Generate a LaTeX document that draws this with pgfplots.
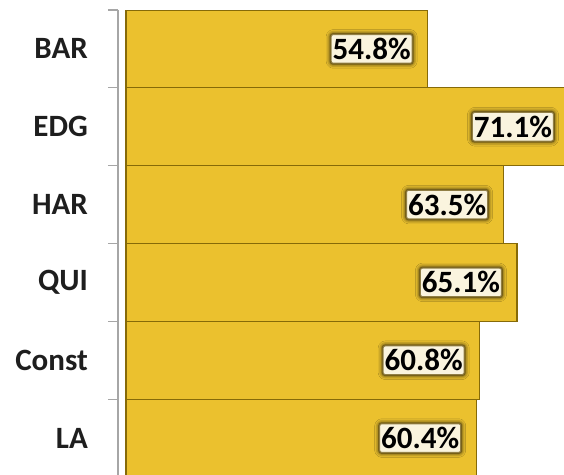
\documentclass[border=0pt]{standalone}
\usepackage{pgfplots}
\pgfplotsset{compat=1.18}
\usepackage{pgfplotstable}
\usepackage{fontspec}
\setmainfont{Carlito}
\usetikzlibrary{shadows.blur}
\definecolor{barfill}{RGB}{235,193,46}
\definecolor{baredge}{RGB}{134,106,8}
\definecolor{labfill}{RGB}{250,244,222}
\definecolor{axgray}{RGB}{166,166,166}
\definecolor{cattext}{RGB}{30,30,30}
\definecolor{glow}{RGB}{110,88,20}

\pgfplotstableread{
idx v
0 54.8
1 71.1
2 63.5
3 65.1
4 60.8
5 60.4
}\data

\begin{document}
\begin{tikzpicture}
\begin{axis}[
  scale only axis,
  width=458.8pt, height=467pt,
  xbar, bar width=1,
  x coord trafo/.code={\pgfmathparse{#1-20}},
  xmin=19.077, xmax=72,
  ymin=-0.5, ymax=5.5, y dir=reverse,
  hide x axis,
  axis y line*=left,
  y axis line style={draw=axgray, line width=1.2pt},
  ytick={0,...,5},
  yticklabels={BAR,EDG,HAR,QUI,Const,LA},
  minor ytick={-0.5,0.5,...,5.5},
  tick align=outside,
  major tick length=0pt,
  minor tick length=10pt,
  major tick style={draw=none},
  minor tick style={draw=axgray, line width=1.2pt},
  yticklabel style={font=\fontsize{31}{37}\selectfont\bfseries, text=cattext, anchor=east, inner sep=0pt, xshift=-30pt},
  point meta=explicit,
  nodes near coords={\pgfmathprintnumber[fixed,fixed zerofill,precision=1,assume math mode=true]{\pgfplotspointmeta}\%},
  every node near coord/.append style={anchor=east, xshift=-14pt,
    font=\fontsize{31}{37}\selectfont\bfseries, text=black, fill=labfill,
    draw=glow, draw opacity=0.75, line width=2pt,
    inner xsep=2pt, inner ysep=4pt, rounded corners=2.5pt,
    blur shadow={shadow xshift=0pt, shadow yshift=0pt, shadow blur radius=4.5pt, shadow opacity=90, shadow scale=1}},
]
\addplot[fill=barfill, draw=baredge, line width=1.2pt] table[x=v, y=idx, meta=v]{\data};
\coordinate (TL) at (axis description cs:0,1);
\coordinate (BR) at (axis description cs:1,0);
\end{axis}
\pgfresetboundingbox
\path[use as bounding box] ([xshift=-118pt,yshift=10pt]TL) rectangle ([xshift=-12.8pt,yshift=2pt]BR);
\end{tikzpicture}
\end{document}
